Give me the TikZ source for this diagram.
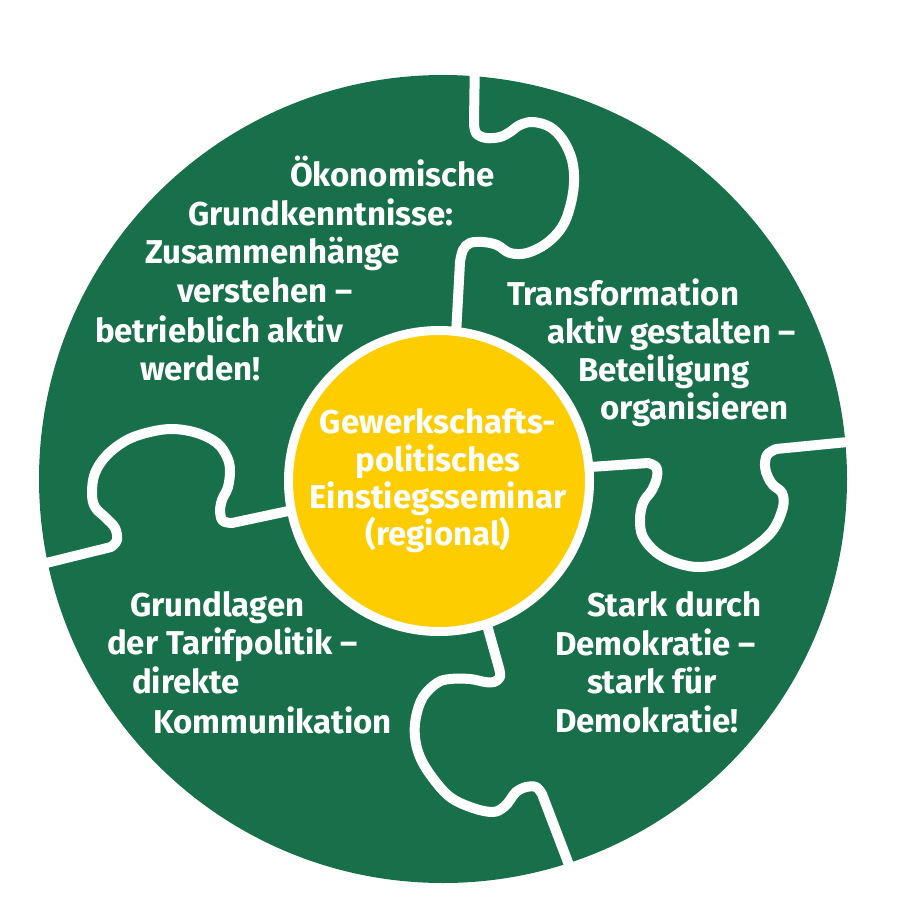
\documentclass[tikz,border=0pt]{standalone}
\usepackage{fontspec}
\setmainfont{Fira Sans}
\definecolor{pgreen}{RGB}{23,112,74}
\definecolor{pyellow}{RGB}{254,205,0}
\begin{document}
\begin{tikzpicture}[x=1pt,y=-1pt,
  txt/.style={anchor=base west, inner sep=0pt, outer sep=0pt, text=white, font=\bfseries\fontsize{33}{38}\selectfont},
  ctxt/.style={txt, anchor=base},
  seam/.style={draw=white, line width=10pt, line cap=round, line join=round}]
\useasboundingbox (0,0) rectangle (900,900);
\node[circle, fill=pgreen, minimum size=808pt, inner sep=0pt] (disc) at (443,479) {};
% puzzle seams
\draw[seam] (475,55) -- plot[smooth, tension=0.6] coordinates {(474,122) (476,133) (486,138) (500,137) (510,132) (520,125) (533,122) (550,127) (563,140) (572,160) (574,183) (570,207) (562,227) (547,243) (527,253) (510,253) (497,245) (483,242) (470,243) (463,250) (460,262)} -- (456,335);
\draw[seam] (590,467) -- plot[smooth, tension=0.6] coordinates {(648,463) (656,467) (657,477) (652,490) (643,503) (640,520) (643,537) (657,553) (677,563) (700,567) (727,562) (753,548) (773,530) (783,507) (782,493) (773,485) (768,477) (765,467) (767,455) (776,449)} -- (858,441);
\draw[seam] (487,625) -- plot[smooth, tension=0.6] coordinates {(499,668) (500,677) (494,682) (485,682) (470,679) (450,679) (437,683) (423,697) (416,717) (415,737) (420,757) (432,777) (450,797) (473,808) (493,812) (504,807) (510,800) (516,792) (526,787) (536,787) (542,794)} -- (574,878);
\draw[seam] (293,510) -- plot[smooth, tension=0.6] coordinates {(232,523) (223,521) (220,512) (222,500) (228,487) (230,470) (227,457) (217,443) (197,433) (173,429) (150,432) (127,440) (107,455) (95,473) (92,493) (95,507) (106,518) (115,528) (117,540) (111,547)} -- (30,567);
\node[circle, fill=pyellow, draw=white, line width=9pt, minimum size=301pt, inner sep=0pt] (core) at (439,481) {};
% texts
\node[txt] (a1) at (290,186) {Ökonomische};
\node[txt] (a2) at (188,225) {Grundkenntnisse:};
\node[txt] (a3) at (145,263) {Zusammenhänge};
\node[txt] (a4) at (177,302) {verstehen –};
\node[txt] (a5) at (95,342) {betrieblich aktiv};
\node[txt] (a6) at (140,380) {werden!};
\node[txt] (b1) at (507,305) {Transformation};
\node[txt] (b2) at (547,343) {aktiv gestalten –};
\node[txt] (b3) at (578,381) {Beteiligung};
\node[txt] (b4) at (600,419) {organisieren};
\node[ctxt] (y1) at (438,433) {Gewerkschafts-};
\node[ctxt] (y2) at (438,471) {politisches};
\node[ctxt] (y3) at (438,508) {Einstiegsseminar};
\node[ctxt] (y4) at (438,545) {(regional)};
\node[txt] (c1) at (130,616) {Grundlagen};
\node[txt] (c2) at (107,654) {der Tarifpolitik –};
\node[txt] (c3) at (132,693) {direkte};
\node[txt] (c4) at (153,733) {Kommunikation};
\node[txt] (d1) at (587,616) {Stark durch};
\node[txt] (d2) at (555,655) {Demokratie –};
\node[txt] (d3) at (587,693) {stark für};
\node[txt] (d4) at (555,732) {Demokratie!};
\end{tikzpicture}
\end{document}
